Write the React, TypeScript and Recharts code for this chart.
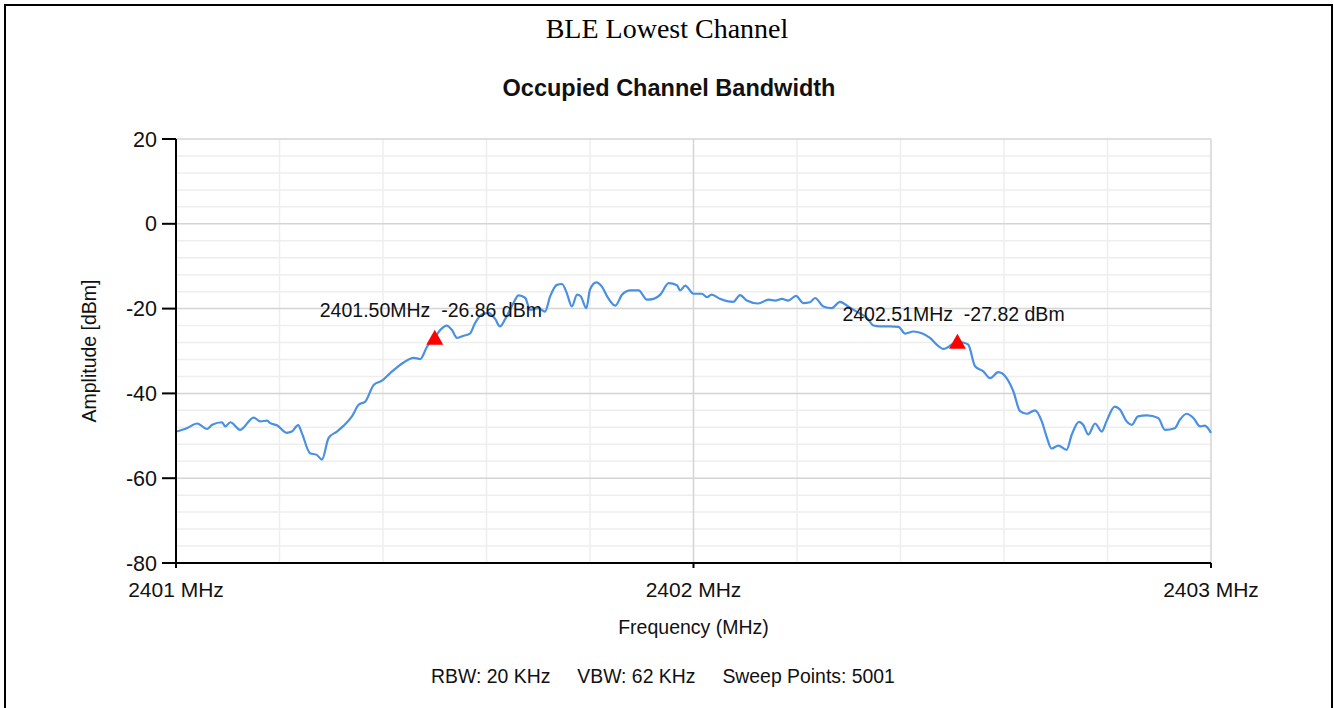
import { LineChart, Line, XAxis, YAxis, CartesianGrid, ReferenceDot } from 'recharts';

// spectrum trace
const freqMHz = [
  2401.0, 2401.021, 2401.041, 2401.06, 2401.07, 2401.089, 2401.095, 2401.105, 2401.124, 2401.15,
  2401.163, 2401.176, 2401.182, 2401.195, 2401.214, 2401.224, 2401.236, 2401.243, 2401.259, 2401.272,
  2401.282, 2401.295, 2401.311, 2401.324, 2401.34, 2401.353, 2401.366, 2401.382, 2401.398, 2401.414,
  2401.44, 2401.459, 2401.472, 2401.485, 2401.5, 2401.511, 2401.523, 2401.533, 2401.543, 2401.556,
  2401.568, 2401.578, 2401.591, 2401.604, 2401.617, 2401.626, 2401.636, 2401.652, 2401.662, 2401.675,
  2401.684, 2401.7, 2401.713, 2401.723, 2401.736, 2401.746, 2401.755, 2401.765, 2401.775, 2401.782,
  2401.793, 2401.8, 2401.812, 2401.823, 2401.833, 2401.849, 2401.862, 2401.878, 2401.894, 2401.91,
  2401.923, 2401.936, 2401.952, 2401.968, 2401.974, 2401.984, 2402.0, 2402.016, 2402.026, 2402.035,
  2402.051, 2402.067, 2402.077, 2402.09, 2402.103, 2402.125, 2402.145, 2402.158, 2402.171, 2402.183,
  2402.198, 2402.212, 2402.225, 2402.235, 2402.251, 2402.267, 2402.283, 2402.299, 2402.315, 2402.335,
  2402.348, 2402.36, 2402.38, 2402.396, 2402.409, 2402.425, 2402.441, 2402.457, 2402.47, 2402.483,
  2402.51, 2402.521, 2402.531, 2402.544, 2402.56, 2402.573, 2402.589, 2402.605, 2402.618, 2402.631,
  2402.644, 2402.66, 2402.673, 2402.682, 2402.692, 2402.705, 2402.721, 2402.731, 2402.745, 2402.753,
  2402.763, 2402.776, 2402.789, 2402.798, 2402.814, 2402.824, 2402.837, 2402.847, 2402.859, 2402.876,
  2402.898, 2402.911, 2402.93, 2402.94, 2402.953, 2402.966, 2402.979, 2402.988, 2403.0,
];

const amplitudeDbm = [
  -49.0, -48.2, -47.1, -48.4, -47.4, -46.8, -47.8, -46.8, -48.6, -45.7,
  -46.6, -46.4, -47.0, -47.5, -49.3, -49.0, -47.5, -49.3, -54.1, -54.5,
  -55.6, -50.5, -49.0, -47.6, -45.4, -42.7, -41.9, -38.0, -37.0, -35.2,
  -32.7, -31.6, -31.9, -29.0, -26.86, -25.0, -24.0, -25.0, -26.9, -26.4,
  -25.9, -23.4, -21.4, -21.0, -22.5, -24.2, -22.5, -18.7, -16.9, -17.5,
  -20.3, -19.9, -20.7, -17.1, -14.4, -14.2, -16.3, -19.5, -16.7, -17.1,
  -19.9, -15.5, -13.8, -14.8, -17.1, -19.3, -16.7, -15.7, -15.7, -17.9,
  -17.7, -16.7, -14.0, -14.5, -15.7, -14.6, -16.5, -16.5, -17.3, -16.7,
  -17.7, -18.3, -18.4, -16.8, -18.1, -18.8, -17.9, -18.1, -17.7, -18.1,
  -17.0, -18.7, -18.5, -17.5, -19.5, -19.9, -18.4, -19.5, -20.7, -22.2,
  -24.0, -24.2, -24.2, -24.3, -25.9, -25.4, -25.8, -26.9, -28.5, -29.5,
  -27.82, -28.0, -28.5, -33.6, -34.8, -36.4, -35.0, -36.4, -39.5, -44.2,
  -44.8, -44.0, -46.6, -50.1, -53.0, -52.3, -53.3, -49.7, -46.7, -47.4,
  -49.7, -47.1, -49.0, -46.6, -43.1, -43.8, -46.6, -47.4, -45.4, -45.2,
  -45.8, -48.6, -48.2, -46.2, -44.8, -45.8, -47.8, -47.6, -49.3,
];

// OBW markers
const markerFreq = [2401.5, 2402.51];
const markerAmp = [-26.86, -27.82];

const xTicks = [2401, 2402, 2403];
const yTicks = [20, 0, -20, -40, -60, -80];
const xMinorGrid = [2401.2, 2401.4, 2401.6, 2401.8, 2402.2, 2402.4, 2402.6, 2402.8];
const xMajorGrid = [2402, 2403];
const yMinorGrid = [16, 12, 8, 4, -4, -8, -12, -16, -24, -28, -32, -36, -44, -48, -52, -56, -64, -68, -72, -76];
const yMajorGrid = [20, 0, -20, -40, -60];

const data = freqMHz.map((f, i) => ({ freq: f, amp: amplitudeDbm[i] }));

const SANS = '"Liberation Sans", Arial, sans-serif';

const Marker = (props: any) => {
  const { cx, cy, label } = props;
  if (cx == null || cy == null) return null;
  return (
    <g>
      <polygon points={`${cx},${cy - 8} ${cx - 8.5},${cy + 7} ${cx + 8.5},${cy + 7}`} fill="#ff0000" />
      <text x={cx - 115} y={cy - 21} fontSize={19.5} fontFamily={SANS} fill="#111" style={{ whiteSpace: 'pre' }}>
        {label}
      </text>
    </g>
  );
};

const App = () => {
  return (
    <div style={{ position: 'absolute', left: 0, top: 0, width: 1334, height: 708, overflow: 'hidden', background: '#fff' }}>
      <div
        style={{
          position: 'absolute', left: 4, top: 4, width: 1329, height: 760,
          border: '2px solid #000', boxSizing: 'border-box',
        }}
      />
      <div style={{ position: 'absolute', left: 0, width: 1334, top: 15, textAlign: 'center', fontFamily: '"Liberation Serif", "Times New Roman", serif', fontSize: 28, lineHeight: 1 }}>
        BLE Lowest Channel
      </div>
      <div style={{ position: 'absolute', left: 0, width: 1338, top: 77, textAlign: 'center', fontFamily: SANS, fontWeight: 'bold', fontSize: 23.5, lineHeight: 1, color: '#111' }}>
        Occupied Channel Bandwidth
      </div>
      <div style={{ position: 'absolute', left: 0, width: 1326, top: 667, textAlign: 'center', fontFamily: SANS, fontSize: 19.4, lineHeight: 1, color: '#111', whiteSpace: 'pre' }}>
        {'RBW: 20 KHz     VBW: 62 KHz     Sweep Points: 5001'}
      </div>
      <div style={{ position: 'absolute', left: 0, top: 0 }}>
        <LineChart width={1334} height={708} data={data} margin={{ top: 139, right: 123, bottom: 105, left: 86 }}>
          <CartesianGrid stroke="#eeeeee" strokeWidth={1.5} horizontalValues={yMinorGrid} verticalValues={xMinorGrid} />
          <CartesianGrid stroke="#d4d4d4" strokeWidth={1.5} horizontalValues={yMajorGrid} verticalValues={xMajorGrid} />
          <XAxis
            dataKey="freq"
            type="number"
            domain={[2401, 2403]}
            ticks={xTicks}
            interval={0}
            tickFormatter={(v: number) => `${v} MHz`}
            height={40}
            tickSize={5}
            tickMargin={14}
            stroke="#000"
            strokeWidth={2}
            tick={{ fontSize: 21, fontFamily: SANS, fill: '#111' }}
            label={{ value: 'Frequency (MHz)', position: 'bottom', offset: 17, style: { fontSize: 19.5, fontFamily: SANS, fill: '#111' } }}
          />
          <YAxis
            type="number"
            domain={[-80, 20]}
            ticks={yTicks}
            interval={0}
            width={90}
            tickSize={14}
            tickMargin={5}
            stroke="#000"
            strokeWidth={2}
            tick={{ fontSize: 21.5, fontFamily: SANS, fill: '#111' }}
            label={{ value: 'Amplitude [dBm]', angle: -90, position: 'insideLeft', offset: 3, style: { textAnchor: 'middle', fontSize: 19.5, fontFamily: SANS, fill: '#111' } }}
          />
          <Line type="monotone" dataKey="amp" stroke="#4a90e2" strokeWidth={2.2} dot={false} isAnimationActive={false} />
          {markerFreq.map((f, i) => (
            <ReferenceDot
              key={f}
              x={f}
              y={markerAmp[i]}
              r={8}
              shape={(p: any) => (
                <Marker {...p} label={`${f.toFixed(2)}MHz  ${markerAmp[i].toFixed(2)} dBm`} />
              )}
            />
          ))}
        </LineChart>
      </div>
    </div>
  );
};

export default App;
